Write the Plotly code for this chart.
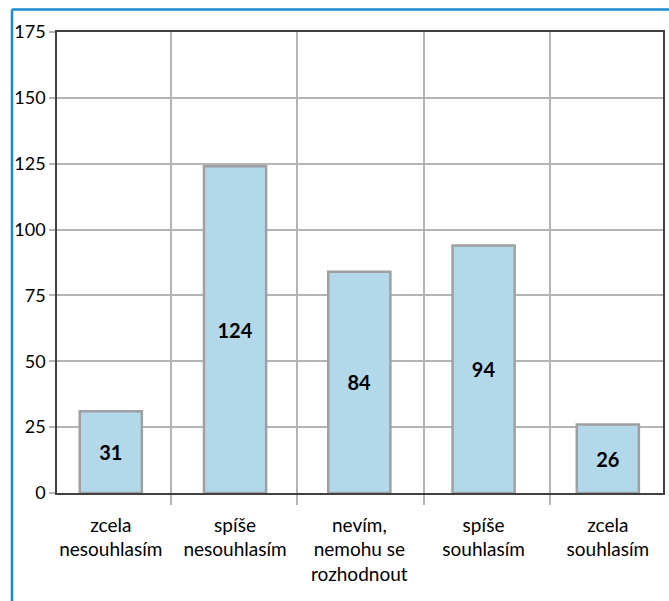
import plotly.graph_objects as go

categories = ["zcela<br>nesouhlasím", "spíše<br>nesouhlasím", "nevím,<br>nemohu se<br>rozhodnout",
              "spíše<br>souhlasím", "zcela<br>souhlasím"]
values = [31, 124, 84, 94, 26]
y_ticks = [0, 25, 50, 75, 100, 125, 150, 175]

positions = list(range(len(categories)))
FONT = "Lato"

fig = go.Figure()
fig.add_trace(go.Bar(
    x=positions, y=values, width=0.5,
    marker=dict(color="#b3d8ea", line=dict(color="#a0a0a0", width=2.5)),
    text=values, texttemplate="<b>%{text}</b>",
    textposition="inside", insidetextanchor="middle", textangle=0,
    textfont=dict(family=FONT, size=20, color="black"),
    hoverinfo="skip",
))

fig.update_layout(
    width=669, height=601,
    margin=dict(l=57, r=6, t=32, b=108, autoexpand=False),
    paper_bgcolor="white", plot_bgcolor="white",
    showlegend=False,
    font=dict(family=FONT, size=19, color="black"),
    xaxis=dict(
        range=[-0.433, 4.444], automargin=False,
        tickmode="array", tickvals=positions, ticktext=categories,
        ticks="", showgrid=False, zeroline=False,
        showline=True, linecolor="#404040", linewidth=1.5, mirror=True,
        ticklabelstandoff=14,
        tickfont=dict(family=FONT, size=19, color="black"),
        minor=dict(tickmode="linear", tick0=0.485, dtick=1.017,
                   showgrid=True, gridcolor="#b4b4b4", gridwidth=1.5,
                   ticks="outside", ticklen=10, tickcolor="#b4b4b4", tickwidth=1.5),
    ),
    yaxis=dict(
        range=[0, 175], tickmode="array", tickvals=y_ticks, automargin=False,
        showgrid=True, gridcolor="#b4b4b4", gridwidth=1.5,
        zeroline=False,
        showline=True, linecolor="#404040", linewidth=1.5, mirror=True,
        ticks="outside", ticklen=6, tickcolor="#b4b4b4", tickwidth=1.5,
        tickfont=dict(family=FONT, size=18, color="black"),
    ),
    shapes=[
        dict(type="line", xref="paper", yref="paper",
             x0=-0.0743, x1=1.2, y0=1.0488, y1=1.0488,
             line=dict(color="#1a8ccc", width=2.5)),
        dict(type="line", xref="paper", yref="paper",
             x0=-0.0743, x1=-0.0743, y0=1.0488, y1=-0.3,
             line=dict(color="#1a8ccc", width=2.5)),
    ],
)

fig.write_html("out.html",
               config={"displayModeBar": False},
               post_script="document.body.style.margin='0';document.body.style.overflow='hidden';")
